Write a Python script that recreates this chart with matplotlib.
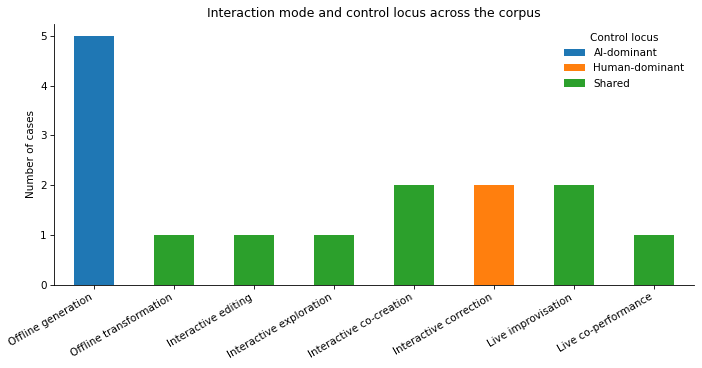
import numpy as np
import matplotlib.pyplot as plt

categories = ['Offline generation', 'Offline transformation', 'Interactive editing',
              'Interactive exploration', 'Interactive co-creation', 'Interactive correction',
              'Live improvisation', 'Live co-performance']
ai_dominant = [5, 0, 0, 0, 0, 0, 0, 0]
human_dominant = [0, 0, 0, 0, 0, 2, 0, 0]
shared = [0, 1, 1, 1, 2, 0, 2, 1]

series = [('AI-dominant', ai_dominant, '#1f77b4'),
          ('Human-dominant', human_dominant, '#ff7f0e'),
          ('Shared', shared, '#2ca02c')]

fig, ax = plt.subplots(figsize=(9.36, 4.9067), dpi=75)

xs = np.arange(len(categories))
bottom = np.zeros(len(categories))
for name, vals, color in series:
    ax.bar(xs, vals, width=0.5, bottom=bottom, color=color, label=name)
    bottom += np.array(vals)

ax.set_xlim(-0.5, len(categories) - 0.5)
ax.set_ylim(0, 5.25)
ax.set_xticks(xs)
ax.set_xticklabels(categories, rotation=30, ha='right')
ax.set_yticks(range(6))
ax.set_ylabel('Number of cases')
ax.set_title('Interaction mode and control locus across the corpus')
ax.spines['top'].set_visible(False)
ax.spines['right'].set_visible(False)
ax.legend(title='Control locus', frameon=False)

plt.subplots_adjust(left=0.077, right=0.9886, top=0.936, bottom=0.2264)
plt.savefig('out.png')
